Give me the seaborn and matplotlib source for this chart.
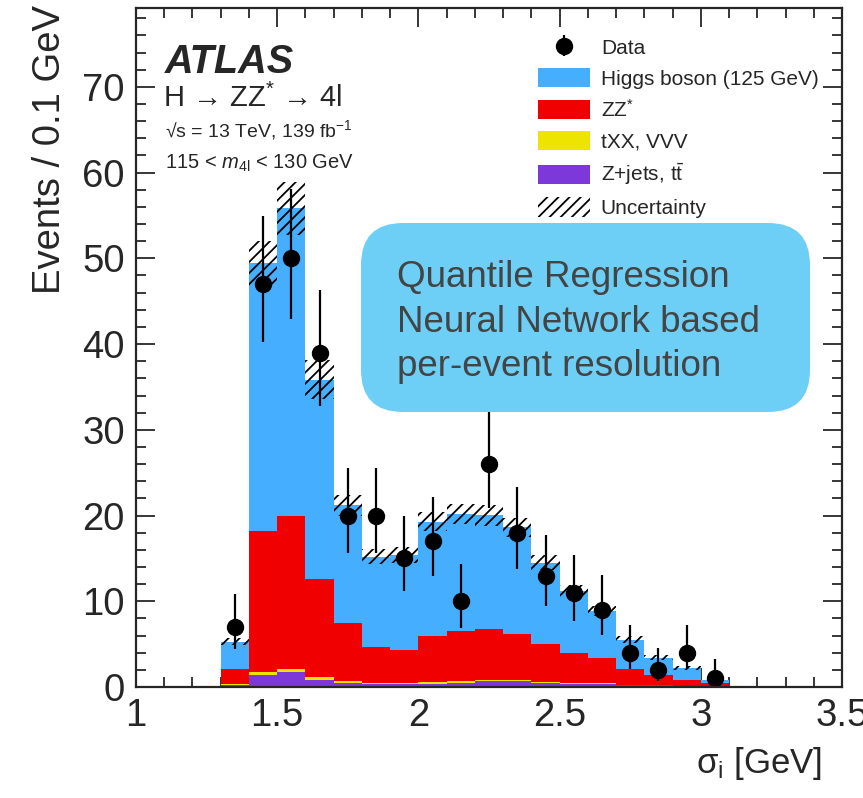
import numpy as np
import pandas as pd
import matplotlib
matplotlib.use("Agg")
import matplotlib.pyplot as plt
import seaborn as sns
from matplotlib.patches import Patch, FancyBboxPatch
from matplotlib.transforms import IdentityTransform
from matplotlib.ticker import MultipleLocator

# Bins of sigma_i, width 0.1 GeV from 1.0 to 3.5
bin_centers = [1.05, 1.15, 1.25, 1.35, 1.45, 1.55, 1.65, 1.75, 1.85, 1.95,
               2.05, 2.15, 2.25, 2.35, 2.45, 2.55, 2.65, 2.75, 2.85, 2.95,
               3.05, 3.15, 3.25, 3.35, 3.45]

# Background / signal predictions per bin
higgs = [0, 0, 0.12, 3.2, 31.2, 35.9, 23.3, 13.7, 10.5, 11.1,
         13.4, 13.7, 13.3, 12.4, 9.5, 7.2, 5.5, 3.4, 2.0, 1.4,
         0.4, 0.08, 0, 0, 0]
zz = [0, 0, 0.02, 1.8, 16.4, 17.9, 11.4, 6.85, 4.3, 3.85,
      5.35, 5.85, 5.85, 5.45, 4.45, 3.55, 2.9, 1.85, 1.2, 0.7,
      0.35, 0.02, 0, 0, 0]
txx = [0, 0, 0, 0.1, 0.35, 0.3, 0.3, 0.15, 0.12, 0.15,
       0.15, 0.15, 0.12, 0.12, 0.12, 0.1, 0.08, 0.05, 0.03, 0.02,
       0.01, 0, 0, 0, 0]
zjets = [0, 0, 0.02, 0.2, 1.45, 1.75, 0.85, 0.5, 0.3, 0.3,
         0.4, 0.5, 0.75, 0.65, 0.45, 0.35, 0.35, 0.2, 0.2, 0.1,
         0.05, 0, 0, 0, 0]
uncert = [0, 0, 0, 0.4, 2.6, 3.1, 2.3, 1.2, 0.9, 0.9,
          1.1, 1.2, 1.2, 1.1, 0.9, 0.7, 0.6, 0.4, 0.3, 0.2,
          0.1, 0, 0, 0, 0]

# Observed data
data_x = [1.35, 1.45, 1.55, 1.65, 1.75, 1.85, 1.95, 2.05, 2.15, 2.25,
          2.35, 2.45, 2.55, 2.65, 2.75, 2.85, 2.95, 3.05]
data_y = [7, 47, 50, 39, 20, 20, 15, 17, 10, 26, 18, 13, 11, 9, 4, 2, 4, 1]
data_err_lo = [2.6, 6.8, 7.1, 6.2, 4.4, 4.4, 3.8, 4.1, 3.1, 5.1,
               4.2, 3.6, 3.3, 2.9, 1.9, 1.3, 1.9, 0.8]
data_err_hi = [3.8, 7.9, 8.1, 7.3, 5.5, 5.5, 4.9, 5.2, 4.3, 6.2,
               5.3, 4.7, 4.4, 4.1, 3.2, 2.6, 3.2, 2.3]

proc_names = ["Higgs boson (125 GeV)", "ZZ$^{*}$", "tXX, VVV",
              "Z+jets, t$\\bar{\\mathregular{t}}$"]
proc_colors = ["#46AEFF", "#F00000", "#EDE500", "#7D38D9"]

box_lines = ["Quantile Regression", "Neural Network based",
             "per-event resolution"]

sns.set_style("ticks")
plt.rcParams["font.family"] = ["Liberation Sans", "DejaVu Sans"]
plt.rcParams["mathtext.fontset"] = "custom"
plt.rcParams["mathtext.rm"] = "Liberation Sans"
plt.rcParams["mathtext.it"] = "Liberation Sans:italic"
plt.rcParams["mathtext.bf"] = "Liberation Sans:bold"
plt.rcParams["hatch.linewidth"] = 1.3

# long table for seaborn stacking
frames = []
for name, vals in zip(proc_names, [higgs, zz, txx, zjets]):
    frames.append(pd.DataFrame({"x": bin_centers, "w": vals, "proc": name}))
df = pd.concat(frames, ignore_index=True)

fig = plt.figure(figsize=(8.63, 7.98), dpi=100)
ax = fig.add_axes([0.1576, 0.1391, 0.8181, 0.8509])

sns.histplot(data=df, x="x", weights="w", hue="proc", hue_order=proc_names,
             palette=proc_colors, binwidth=0.1, binrange=(1.0, 3.5),
             multiple="stack", element="step", fill=True, alpha=1,
             linewidth=0, legend=False, ax=ax)

# Uncertainty band on total prediction
total = np.array(higgs) + np.array(zz) + np.array(txx) + np.array(zjets)
unc = np.array(uncert)
ax.bar(bin_centers, 2 * unc, bottom=total - unc, width=0.1, fill=False,
       hatch="///", edgecolor="black", linewidth=0, zorder=3)

# Data
eb = ax.errorbar(data_x, data_y, yerr=[data_err_lo, data_err_hi], fmt="o",
                 color="black", markersize=11.5, elinewidth=1.6, capsize=0,
                 zorder=5)

ax.set_xlim(1.0, 3.5)
ax.set_ylim(0, 79.2)
ax.xaxis.set_major_locator(MultipleLocator(0.5))
ax.xaxis.set_minor_locator(MultipleLocator(0.1))
ax.yaxis.set_major_locator(MultipleLocator(10))
ax.yaxis.set_minor_locator(MultipleLocator(2))
ax.xaxis.set_major_formatter(plt.FuncFormatter(lambda v, p: f"{v:g}"))
ax.tick_params(which="both", direction="in", top=True, right=True,
               width=1.3, labelsize=27.5, zorder=6)
ax.tick_params(which="major", length=14, pad=8)
ax.tick_params(which="minor", length=7)
for sp in ax.spines.values():
    sp.set_linewidth(1.6)
    sp.set_zorder(6)

ax.set_ylabel("Events / 0.1 GeV", fontsize=27.5, loc="top")
ax.yaxis.set_label_coords(-0.096, 1.004)
ax.set_xlabel("σ$_\\mathregular{i}$ [GeV]", fontsize=25, loc="right")
ax.xaxis.set_label_coords(0.972, -0.086)

# ATLAS labels
ax.text(0.041, 0.904, "ATLAS", transform=ax.transAxes, fontsize=28.5,
        fontweight="bold", fontstyle="italic", va="baseline")
ax.text(0.038, 0.854, "H → ZZ$^{*}$ → 4l", transform=ax.transAxes,
        fontsize=21, va="baseline")
ax.text(0.041, 0.810, "√s = 13 TeV, 139 fb$^{-1}$",
        transform=ax.transAxes, fontsize=14, va="baseline")
ax.text(0.041, 0.764, "115 < $m_{\\mathregular{4l}}$ < 130 GeV",
        transform=ax.transAxes, fontsize=14.5, va="baseline")

# Legend
handles = [eb] + [Patch(facecolor=c, edgecolor="none") for c in proc_colors] \
    + [Patch(facecolor="white", edgecolor="black", hatch="///", linewidth=0)]
labels = ["Data"] + proc_names + ["Uncertainty"]
ax.legend(handles, labels, loc="upper left", bbox_to_anchor=(0.569, 0.957),
          frameon=False, fontsize=15, handlelength=2.5, handleheight=1.05,
          labelspacing=0.48, handletextpad=0.53, borderaxespad=0,
          borderpad=0)

# Annotation box (pixel coordinates of the figure)
box = FancyBboxPatch((361, 798 - 412), 449, 189,
                     boxstyle="round,pad=0,rounding_size=42",
                     facecolor="#6DCFF6", edgecolor="none",
                     transform=IdentityTransform(), zorder=7)
fig.add_artist(box)
for line, base in zip(box_lines, [287, 332, 376]):
    fig.text(397 / 863, 1 - base / 798, line, fontsize=26.5,
             color="#444444", va="baseline", ha="left", zorder=8)

fig.savefig("out.png", dpi=100)
